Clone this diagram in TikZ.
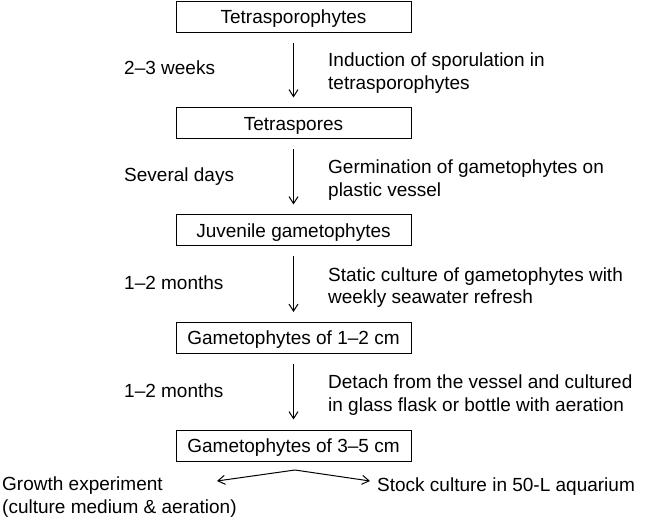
\documentclass[tikz,border=0pt]{standalone}
\usepackage{fontspec}
\setmainfont{Liberation Sans}
\usetikzlibrary{arrows.meta}
\begin{document}
\begin{tikzpicture}[x=1pt,y=-1pt,
  stagebox/.style={draw,line width=1pt,minimum width=235pt,minimum height=31pt,inner sep=0pt,
    text height=13.6pt,text depth=0pt,font=\fontsize{19}{22.5}\selectfont},
  lbl/.style={inner sep=0pt,font=\fontsize{19}{22.5}\selectfont},
  desc/.style={inner sep=0pt,align=left,font=\fontsize{19}{22.5}\selectfont},
  arr/.style={line width=1pt,-{Straight Barb[length=7pt,width=9pt]}},
  flow/.style={arr,shorten <=10pt,shorten >=10pt}]
\path[use as bounding box] (0,0) rectangle (646,524);
\node[stagebox] (b1) at (293.5,17) {Tetrasporophytes};
\node[stagebox] (b2) at (293.5,123.5) {Tetraspores};
\node[stagebox] (b3) at (293.5,230.5) {Juvenile gametophytes};
\node[stagebox] (b4) at (293.5,338) {Gametophytes of 1–2 cm};
\node[stagebox] (b5) at (293.5,445.5) {Gametophytes of 3–5 cm};
\draw[flow] (b1) -- (b2);
\draw[flow] (b2) -- (b3);
\draw[flow] (b3) -- (b4);
\draw[flow] (b4) -- (b5);
\node[lbl,anchor=base west] (l1) at (124,75) {2–3 weeks};
\node[lbl,anchor=base west] (l2) at (124,182) {Several days};
\node[lbl,anchor=base west] (l3) at (124,289.5) {1–2 months};
\node[lbl,anchor=base west] (l4) at (124,397) {1–2 months};
\node[desc,anchor=north west] (d1) at (328,53) {Induction of sporulation in\\tetrasporophytes};
\node[desc,anchor=north west] (d2) at (328,160) {Germination of gametophytes on\\plastic vessel};
\node[desc,anchor=north west] (d3) at (328,267.5) {Static culture of gametophytes with\\weekly seawater refresh};
\node[desc,anchor=north west] (d4) at (328,375) {Detach from the vessel and cultured\\in glass flask or bottle with aeration};
\coordinate (split) at (295,470);
\coordinate (lt) at (217,481);
\coordinate (rt) at (370,481);
\node[desc,anchor=north west] (growth) at (2,477) {Growth experiment\\(culture medium \& aeration)};
\node[lbl,anchor=base west] (stock) at (377,491) {Stock culture in 50-L aquarium};
\draw[arr] (split) -- (lt);
\draw[arr] (split) -- (rt);
\end{tikzpicture}
\end{document}
